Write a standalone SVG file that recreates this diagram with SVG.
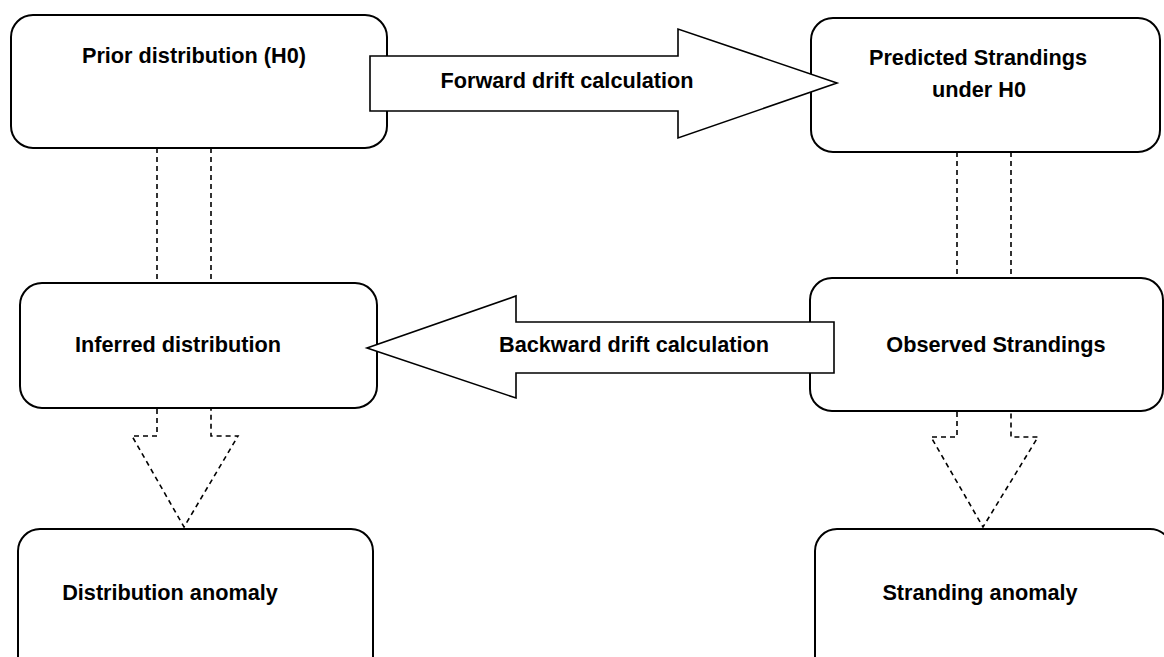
<svg xmlns="http://www.w3.org/2000/svg" width="1164" height="657" viewBox="0 0 1164 657">
<style>
.box{fill:#fff;stroke:#000;stroke-width:2}
.arrow{fill:#fff;stroke:#000;stroke-width:1.6;stroke-linejoin:miter}
.dash{fill:none;stroke:#000;stroke-width:1.6;stroke-dasharray:5,4}
text{font-family:"Liberation Sans",Arial,sans-serif;font-weight:bold;font-size:21.7px;fill:#000;text-anchor:middle}
</style>
<rect width="1164" height="657" fill="#fff"/>
<g id="node-prior"><rect class="box" x="11" y="15" width="376" height="133" rx="22"/><text x="194" y="63">Prior distribution (H0)</text></g>
<g id="node-predicted"><rect class="box" x="811" y="18" width="349" height="134" rx="22"/><text x="978" y="65">Predicted Strandings</text><text x="979" y="97">under H0</text></g>
<g id="node-inferred"><rect class="box" x="20" y="283" width="357" height="125" rx="22"/></g>
<g id="node-observed"><rect class="box" x="810" y="278" width="353" height="133" rx="22"/></g>
<g id="node-distanomaly"><rect class="box" x="18" y="529" width="355" height="160" rx="22"/><text x="170" y="600">Distribution anomaly</text></g>
<g id="node-strandanomaly"><rect class="box" x="815" y="529" width="357" height="160" rx="22"/><text x="980" y="600">Stranding anomaly</text></g>
<g id="connectors">
<polygon class="arrow" points="370,56 678,56 678,29 837,83 678,138 678,111 370,111"/>
<polygon class="arrow" points="834,322 516,322 516,296 367,348 516,398 516,373 834,373"/>
<line class="dash" x1="157" y1="148" x2="157" y2="283"/>
<line class="dash" x1="211" y1="148" x2="211" y2="283"/>
<line class="dash" x1="957" y1="152" x2="957" y2="278"/>
<line class="dash" x1="1011" y1="152" x2="1011" y2="278"/>
<polyline class="dash" points="157,409 157,436 132,436 184,527 238,436 211,436 211,409"/>
<polyline class="dash" points="957,412 957,437 931,437 983,527 1038,437 1011,437 1011,412"/>
</g>
<g id="labels">
<text x="567" y="88">Forward drift calculation</text>
<text x="634" y="352">Backward drift calculation</text>
<text x="178" y="352">Inferred distribution</text>
<text x="996" y="352">Observed Strandings</text>
</g>
</svg>
